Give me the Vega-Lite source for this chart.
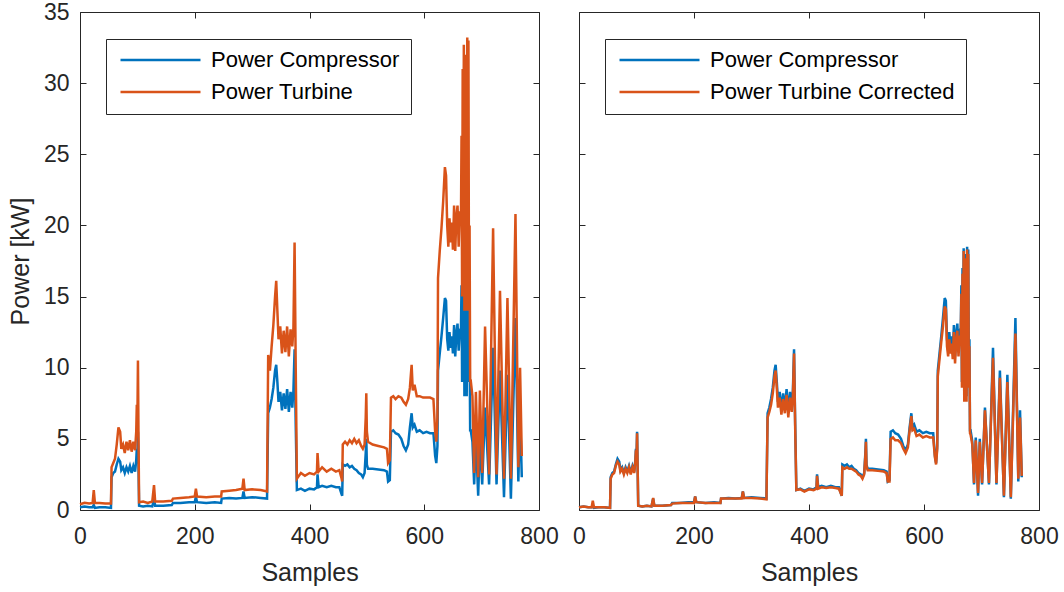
{
  "$schema": "https://vega.github.io/schema/vega-lite/v6.json",
  "background": "white",
  "padding": {"left": 7, "top": 0, "right": 5, "bottom": 0},
  "config": {
    "font": "Liberation Sans",
    "view": {"stroke": "#262626", "strokeWidth": 1},
    "axis": {
      "grid": false, "domain": false, "tickSize": -6, "tickColor": "#262626", "tickWidth": 1,
      "labelFlush": false, "labelOverlap": false,
      "labelColor": "#262626", "labelFontSize": 23, "labelFont": "Liberation Sans",
      "titleColor": "#262626", "titleFontSize": 25, "titleFont": "Liberation Sans", "titleFontWeight": "normal"
    },
    "legend": {
      "orient": "none", "legendX": 26, "legendY": 27, "direction": "vertical",
      "strokeColor": "#262626", "fillColor": "white", "padding": 11, "cornerRadius": 0,
      "symbolType": "stroke", "symbolSize": 6400, "symbolStrokeWidth": 2.5, "symbolOffset": 2,
      "labelOffset": 9, "labelFontSize": 22, "labelColor": "#000000", "labelFont": "Liberation Sans",
      "labelLimit": 400, "rowPadding": 10, "clipHeight": 20
    }
  },
  "datasets": {
    "power": [
      {"s":0,"compressor":0.2,"turbine":0.4,"corrected":0.2},
      {"s":8,"compressor":0.25,"turbine":0.5,"corrected":0.25},
      {"s":16,"compressor":0.2,"turbine":0.45,"corrected":0.2},
      {"s":22,"compressor":0.2,"turbine":0.5,"corrected":0.2},
      {"s":24,"compressor":0.35,"turbine":1.4,"corrected":0.65},
      {"s":26,"compressor":0.15,"turbine":0.5,"corrected":0.2},
      {"s":34,"compressor":0.2,"turbine":0.5,"corrected":0.2},
      {"s":44,"compressor":0.2,"turbine":0.45,"corrected":0.2},
      {"s":54,"compressor":0.15,"turbine":0.45,"corrected":0.15},
      {"s":55,"compressor":2.3,"turbine":3.0,"corrected":2.2},
      {"s":58,"compressor":2.6,"turbine":3.3,"corrected":2.5},
      {"s":61,"compressor":2.7,"turbine":3.6,"corrected":2.6},
      {"s":64,"compressor":3.2,"turbine":4.6,"corrected":3.1},
      {"s":67,"compressor":3.6,"turbine":5.8,"corrected":3.4},
      {"s":70,"compressor":3.4,"turbine":5.5,"corrected":3.2},
      {"s":72,"compressor":2.8,"turbine":4.3,"corrected":2.7},
      {"s":75,"compressor":3.0,"turbine":4.6,"corrected":2.9},
      {"s":78,"compressor":2.6,"turbine":4.0,"corrected":2.5},
      {"s":81,"compressor":3.0,"turbine":4.8,"corrected":2.9},
      {"s":84,"compressor":2.7,"turbine":4.2,"corrected":2.6},
      {"s":87,"compressor":3.1,"turbine":4.9,"corrected":3.0},
      {"s":90,"compressor":2.6,"turbine":4.1,"corrected":2.5},
      {"s":93,"compressor":3.1,"turbine":4.8,"corrected":3.0},
      {"s":96,"compressor":2.7,"turbine":4.2,"corrected":2.6},
      {"s":98,"compressor":3.5,"turbine":5.5,"corrected":3.4},
      {"s":99,"compressor":4.3,"turbine":7.4,"corrected":4.2},
      {"s":100,"compressor":3.6,"turbine":6.0,"corrected":3.5},
      {"s":101,"compressor":5.5,"turbine":10.5,"corrected":5.4},
      {"s":102,"compressor":3.0,"turbine":5.0,"corrected":2.9},
      {"s":103,"compressor":0.3,"turbine":0.55,"corrected":0.3},
      {"s":110,"compressor":0.25,"turbine":0.6,"corrected":0.25},
      {"s":118,"compressor":0.3,"turbine":0.5,"corrected":0.3},
      {"s":126,"compressor":0.25,"turbine":0.6,"corrected":0.25},
      {"s":129,"compressor":0.8,"turbine":1.75,"corrected":0.85},
      {"s":131,"compressor":0.3,"turbine":0.6,"corrected":0.3},
      {"s":145,"compressor":0.3,"turbine":0.6,"corrected":0.3},
      {"s":160,"compressor":0.35,"turbine":0.65,"corrected":0.35},
      {"s":162,"compressor":0.5,"turbine":0.8,"corrected":0.45},
      {"s":175,"compressor":0.5,"turbine":0.85,"corrected":0.5},
      {"s":190,"compressor":0.55,"turbine":0.9,"corrected":0.5},
      {"s":200,"compressor":0.55,"turbine":0.95,"corrected":0.5},
      {"s":202,"compressor":0.95,"turbine":1.5,"corrected":0.95},
      {"s":204,"compressor":0.55,"turbine":0.95,"corrected":0.55},
      {"s":220,"compressor":0.5,"turbine":0.9,"corrected":0.5},
      {"s":235,"compressor":0.55,"turbine":0.95,"corrected":0.5},
      {"s":246,"compressor":0.5,"turbine":0.95,"corrected":0.5},
      {"s":247,"compressor":0.8,"turbine":1.3,"corrected":0.8},
      {"s":260,"compressor":0.85,"turbine":1.35,"corrected":0.8},
      {"s":272,"compressor":0.8,"turbine":1.4,"corrected":0.8},
      {"s":283,"compressor":0.85,"turbine":1.5,"corrected":0.8},
      {"s":285,"compressor":1.3,"turbine":2.2,"corrected":1.3},
      {"s":287,"compressor":0.85,"turbine":1.4,"corrected":0.85},
      {"s":300,"compressor":0.9,"turbine":1.45,"corrected":0.85},
      {"s":315,"compressor":0.85,"turbine":1.4,"corrected":0.8},
      {"s":326,"compressor":0.8,"turbine":1.3,"corrected":0.75},
      {"s":328,"compressor":6.8,"turbine":10.9,"corrected":6.5},
      {"s":331,"compressor":7.2,"turbine":9.8,"corrected":6.9},
      {"s":334,"compressor":7.8,"turbine":11.5,"corrected":7.4},
      {"s":337,"compressor":8.6,"turbine":13.0,"corrected":8.2},
      {"s":340,"compressor":9.8,"turbine":15.0,"corrected":9.4},
      {"s":342,"compressor":10.2,"turbine":16.1,"corrected":9.8},
      {"s":344,"compressor":9.0,"turbine":14.0,"corrected":8.6},
      {"s":346,"compressor":7.6,"turbine":12.0,"corrected":7.2},
      {"s":349,"compressor":8.3,"turbine":12.9,"corrected":7.9},
      {"s":352,"compressor":7.0,"turbine":11.0,"corrected":6.7},
      {"s":355,"compressor":8.2,"turbine":12.6,"corrected":7.8},
      {"s":358,"compressor":7.1,"turbine":11.1,"corrected":6.8},
      {"s":361,"compressor":8.5,"turbine":12.9,"corrected":8.1},
      {"s":364,"compressor":6.9,"turbine":10.8,"corrected":6.5},
      {"s":367,"compressor":8.3,"turbine":12.7,"corrected":7.9},
      {"s":370,"compressor":7.2,"turbine":11.5,"corrected":6.9},
      {"s":372,"compressor":8.4,"turbine":12.8,"corrected":8.0},
      {"s":374,"compressor":11.3,"turbine":18.8,"corrected":11.0},
      {"s":376,"compressor":6.0,"turbine":10.0,"corrected":5.7},
      {"s":378,"compressor":1.4,"turbine":2.2,"corrected":1.4},
      {"s":385,"compressor":1.5,"turbine":2.6,"corrected":1.45},
      {"s":392,"compressor":1.35,"turbine":2.4,"corrected":1.3},
      {"s":400,"compressor":1.5,"turbine":2.6,"corrected":1.45},
      {"s":408,"compressor":1.45,"turbine":2.5,"corrected":1.4},
      {"s":413,"compressor":1.6,"turbine":2.7,"corrected":1.5},
      {"s":414,"compressor":2.5,"turbine":4.0,"corrected":2.4},
      {"s":416,"compressor":1.6,"turbine":2.7,"corrected":1.5},
      {"s":422,"compressor":1.7,"turbine":3.0,"corrected":1.6},
      {"s":430,"compressor":1.6,"turbine":2.7,"corrected":1.55},
      {"s":438,"compressor":1.7,"turbine":2.9,"corrected":1.6},
      {"s":446,"compressor":1.6,"turbine":2.7,"corrected":1.55},
      {"s":452,"compressor":1.6,"turbine":2.8,"corrected":1.5},
      {"s":456,"compressor":1.1,"turbine":2.2,"corrected":1.1},
      {"s":457,"compressor":1.0,"turbine":2.0,"corrected":1.0},
      {"s":458,"compressor":3.2,"turbine":4.6,"corrected":3.0},
      {"s":462,"compressor":3.1,"turbine":4.8,"corrected":2.9},
      {"s":466,"compressor":3.2,"turbine":4.6,"corrected":3.0},
      {"s":470,"compressor":3.0,"turbine":4.9,"corrected":2.9},
      {"s":474,"compressor":3.1,"turbine":4.7,"corrected":2.9},
      {"s":478,"compressor":2.9,"turbine":5.0,"corrected":2.8},
      {"s":482,"compressor":2.8,"turbine":4.7,"corrected":2.7},
      {"s":486,"compressor":2.6,"turbine":4.9,"corrected":2.5},
      {"s":490,"compressor":2.5,"turbine":4.5,"corrected":2.4},
      {"s":493,"compressor":2.3,"turbine":4.3,"corrected":2.2},
      {"s":496,"compressor":2.6,"turbine":4.6,"corrected":2.5},
      {"s":498,"compressor":4.0,"turbine":6.5,"corrected":3.8},
      {"s":499,"compressor":5.0,"turbine":8.2,"corrected":4.8},
      {"s":500,"compressor":3.2,"turbine":5.5,"corrected":3.1},
      {"s":502,"compressor":2.9,"turbine":4.8,"corrected":2.8},
      {"s":510,"compressor":2.9,"turbine":4.6,"corrected":2.8},
      {"s":520,"compressor":2.85,"turbine":4.5,"corrected":2.75},
      {"s":530,"compressor":2.8,"turbine":4.4,"corrected":2.7},
      {"s":535,"compressor":2.7,"turbine":4.3,"corrected":2.6},
      {"s":537,"compressor":2.0,"turbine":3.3,"corrected":2.0},
      {"s":540,"compressor":2.1,"turbine":3.5,"corrected":2.0},
      {"s":542,"compressor":5.5,"turbine":7.9,"corrected":5.0},
      {"s":546,"compressor":5.6,"turbine":8.0,"corrected":5.1},
      {"s":550,"compressor":5.4,"turbine":7.8,"corrected":4.9},
      {"s":555,"compressor":5.3,"turbine":8.0,"corrected":4.9},
      {"s":560,"compressor":5.0,"turbine":7.9,"corrected":4.7},
      {"s":564,"compressor":4.5,"turbine":7.6,"corrected":4.3},
      {"s":568,"compressor":4.2,"turbine":7.4,"corrected":4.0},
      {"s":572,"compressor":4.6,"turbine":7.8,"corrected":4.4},
      {"s":575,"compressor":5.8,"turbine":8.6,"corrected":5.6},
      {"s":578,"compressor":6.8,"turbine":10.2,"corrected":6.6},
      {"s":580,"compressor":5.8,"turbine":8.4,"corrected":5.6},
      {"s":583,"compressor":6.0,"turbine":8.8,"corrected":5.7},
      {"s":587,"compressor":5.5,"turbine":8.0,"corrected":5.2},
      {"s":592,"compressor":5.6,"turbine":8.0,"corrected":5.3},
      {"s":598,"compressor":5.4,"turbine":7.9,"corrected":5.1},
      {"s":604,"compressor":5.5,"turbine":7.9,"corrected":5.2},
      {"s":610,"compressor":5.4,"turbine":7.9,"corrected":5.1},
      {"s":616,"compressor":5.4,"turbine":7.8,"corrected":5.1},
      {"s":619,"compressor":3.8,"turbine":5.5,"corrected":3.7},
      {"s":621,"compressor":3.3,"turbine":4.8,"corrected":3.2},
      {"s":623,"compressor":4.5,"turbine":6.5,"corrected":4.3},
      {"s":624,"compressor":9.8,"turbine":16.3,"corrected":9.4},
      {"s":627,"compressor":11.0,"turbine":18.2,"corrected":10.6},
      {"s":630,"compressor":12.2,"turbine":19.8,"corrected":11.8},
      {"s":633,"compressor":13.5,"turbine":21.7,"corrected":12.9},
      {"s":636,"compressor":14.9,"turbine":24.1,"corrected":14.3},
      {"s":638,"compressor":14.7,"turbine":23.5,"corrected":14.1},
      {"s":640,"compressor":12.0,"turbine":20.0,"corrected":11.5},
      {"s":642,"compressor":11.2,"turbine":18.5,"corrected":10.8},
      {"s":644,"compressor":12.5,"turbine":20.5,"corrected":12.0},
      {"s":646,"compressor":11.4,"turbine":18.8,"corrected":11.0},
      {"s":648,"compressor":12.2,"turbine":20.2,"corrected":11.7},
      {"s":650,"compressor":11.0,"turbine":18.3,"corrected":10.6},
      {"s":652,"compressor":13.0,"turbine":21.4,"corrected":12.5},
      {"s":654,"compressor":10.8,"turbine":18.2,"corrected":10.3},
      {"s":656,"compressor":12.4,"turbine":20.6,"corrected":11.9},
      {"s":658,"compressor":13.1,"turbine":21.4,"corrected":12.6},
      {"s":660,"compressor":11.2,"turbine":18.5,"corrected":10.8},
      {"s":662,"compressor":12.6,"turbine":21.0,"corrected":12.1},
      {"s":664,"compressor":12.8,"turbine":20.5,"corrected":12.3},
      {"s":665,"compressor":15.8,"turbine":26.3,"corrected":15.2},
      {"s":666,"compressor":9.0,"turbine":15.0,"corrected":8.6},
      {"s":667,"compressor":17.0,"turbine":31.0,"corrected":16.6},
      {"s":668,"compressor":10.0,"turbine":16.0,"corrected":9.6},
      {"s":669,"compressor":18.4,"turbine":32.7,"corrected":18.2},
      {"s":670,"compressor":8.0,"turbine":14.0,"corrected":7.6},
      {"s":671,"compressor":16.0,"turbine":30.0,"corrected":15.6},
      {"s":672,"compressor":9.0,"turbine":15.0,"corrected":8.6},
      {"s":673,"compressor":18.0,"turbine":32.0,"corrected":17.7},
      {"s":674,"compressor":8.0,"turbine":14.0,"corrected":7.6},
      {"s":675,"compressor":18.5,"turbine":33.2,"corrected":18.3},
      {"s":676,"compressor":10.0,"turbine":16.0,"corrected":9.6},
      {"s":677,"compressor":18.3,"turbine":33.0,"corrected":18.0},
      {"s":678,"compressor":9.0,"turbine":14.0,"corrected":8.6},
      {"s":679,"compressor":12.0,"turbine":20.0,"corrected":11.5},
      {"s":680,"compressor":5.6,"turbine":9.1,"corrected":5.4},
      {"s":681,"compressor":5.6,"turbine":9.1,"corrected":5.3},
      {"s":684,"compressor":4.8,"turbine":8.0,"corrected":4.6},
      {"s":687,"compressor":1.8,"turbine":2.6,"corrected":1.9},
      {"s":690,"compressor":5.1,"turbine":8.3,"corrected":4.9},
      {"s":694,"compressor":1.0,"turbine":2.3,"corrected":1.2},
      {"s":697,"compressor":5.0,"turbine":8.4,"corrected":4.8},
      {"s":701,"compressor":1.8,"turbine":2.6,"corrected":1.9},
      {"s":706,"compressor":7.2,"turbine":12.9,"corrected":7.0},
      {"s":713,"compressor":1.8,"turbine":2.5,"corrected":1.9},
      {"s":720,"compressor":11.4,"turbine":19.8,"corrected":10.7},
      {"s":726,"compressor":1.8,"turbine":2.5,"corrected":1.9},
      {"s":732,"compressor":9.8,"turbine":15.4,"corrected":9.3},
      {"s":739,"compressor":0.9,"turbine":2.2,"corrected":1.0},
      {"s":745,"compressor":9.5,"turbine":14.9,"corrected":9.0},
      {"s":751,"compressor":0.8,"turbine":2.2,"corrected":0.9},
      {"s":759,"compressor":13.5,"turbine":20.8,"corrected":12.4},
      {"s":764,"compressor":2.0,"turbine":3.0,"corrected":2.2},
      {"s":767,"compressor":7.0,"turbine":10.0,"corrected":6.5},
      {"s":770,"compressor":2.3,"turbine":3.8,"corrected":2.4}
    ]
  },
  "bounds": "flush",
  "spacing": 40,
  "resolve": {"scale": {"color": "independent"}, "legend": {"color": "independent"}},
  "hconcat": [
    {
      "width": 459, "height": 498,
      "data": {"name": "power"},
      "transform": [{"fold": ["compressor", "turbine"], "as": ["series", "power"]}],
      "layer": [
        {
          "mark": {"type": "line", "strokeWidth": 2.5},
          "encoding": {
            "x": {"field": "s", "type": "quantitative", "scale": {"domain": [0, 800], "nice": false},
                  "axis": {"values": [0, 200, 400, 600, 800], "title": "Samples", "labelPadding": 21, "titlePadding": 12}},
            "y": {"field": "power", "type": "quantitative", "scale": {"domain": [0, 35], "nice": false},
                  "axis": {"values": [0, 5, 10, 15, 20, 25, 30, 35], "title": "Power [kW]", "labelPadding": 17, "titlePadding": 10}},
            "color": {"field": "series", "type": "nominal",
                      "scale": {"domain": ["compressor", "turbine"], "range": ["#0072BD", "#D95319"]},
                      "legend": {"title": null, "labelExpr": "datum.label == 'compressor' ? 'Power Compressor' : 'Power Turbine'"}}
          }
        },
        {
          "mark": {"type": "line", "opacity": 0},
          "encoding": {
            "x": {"field": "s", "type": "quantitative", "scale": {"domain": [0, 800], "nice": false},
                  "axis": {"orient": "top", "values": [0, 200, 400, 600, 800], "labels": false, "title": null}},
            "y": {"field": "power", "type": "quantitative", "scale": {"domain": [0, 35], "nice": false},
                  "axis": {"orient": "right", "values": [0, 5, 10, 15, 20, 25, 30, 35], "labels": false, "title": null}}
          }
        }
      ],
      "resolve": {"scale": {"x": "independent", "y": "independent"}}
    },
    {
      "width": 460, "height": 498,
      "data": {"name": "power"},
      "transform": [{"fold": ["compressor", "corrected"], "as": ["series", "power"]}],
      "layer": [
        {
          "mark": {"type": "line", "strokeWidth": 2.5},
          "encoding": {
            "x": {"field": "s", "type": "quantitative", "scale": {"domain": [0, 800], "nice": false},
                  "axis": {"values": [0, 200, 400, 600, 800], "title": "Samples", "labelPadding": 21, "titlePadding": 12}},
            "y": {"field": "power", "type": "quantitative", "scale": {"domain": [0, 35], "nice": false},
                  "axis": {"values": [0, 5, 10, 15, 20, 25, 30, 35], "labels": false, "title": null}},
            "color": {"field": "series", "type": "nominal",
                      "scale": {"domain": ["compressor", "corrected"], "range": ["#0072BD", "#D95319"]},
                      "legend": {"title": null, "labelExpr": "datum.label == 'compressor' ? 'Power Compressor' : 'Power Turbine Corrected'"}}
          }
        },
        {
          "mark": {"type": "line", "opacity": 0},
          "encoding": {
            "x": {"field": "s", "type": "quantitative", "scale": {"domain": [0, 800], "nice": false},
                  "axis": {"orient": "top", "values": [0, 200, 400, 600, 800], "labels": false, "title": null}},
            "y": {"field": "power", "type": "quantitative", "scale": {"domain": [0, 35], "nice": false},
                  "axis": {"orient": "right", "values": [0, 5, 10, 15, 20, 25, 30, 35], "labels": false, "title": null}}
          }
        }
      ],
      "resolve": {"scale": {"x": "independent", "y": "independent"}}
    }
  ]
}
